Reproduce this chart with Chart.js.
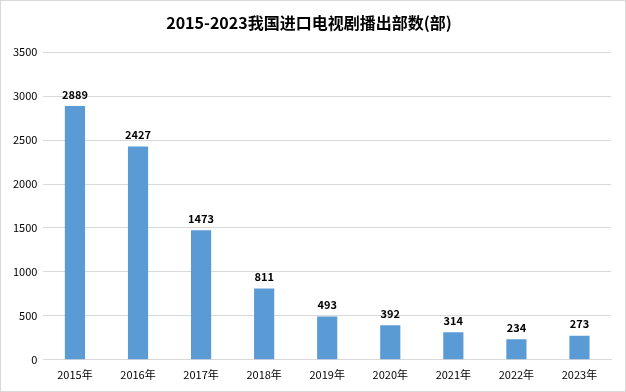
<!DOCTYPE html>
<html>
<head>
<meta charset="utf-8">
<script src="https://cdn.jsdelivr.net/npm/chart.js@4/dist/chart.umd.min.js"></script>
<style>
  html, body { margin: 0; padding: 0; background: #fff; }
  #wrap { width: 624px; height: 390px; border: 1px solid #d9d9d9; position: relative; }
</style>
</head>
<body>
<div id="wrap"><canvas id="c" width="624" height="390"></canvas></div>
<script>
const years = ['2015年', '2016年', '2017年', '2018年', '2019年', '2020年', '2021年', '2022年', '2023年'];
const counts = [2889, 2427, 1473, 811, 493, 392, 314, 234, 273];
const yTicks = [0, 500, 1000, 1500, 2000, 2500, 3000, 3500];

const fontFam = '"Microsoft YaHei", "Noto Sans CJK SC", sans-serif';

// labels above bars
const barLabels = {
  id: 'barLabels',
  afterDatasetsDraw(chart) {
    const ctx = chart.ctx;
    const meta = chart.getDatasetMeta(0);
    ctx.save();
    ctx.font = 'bold 11px ' + fontFam;
    ctx.fillStyle = '#000';
    ctx.textAlign = 'center';
    ctx.textBaseline = 'bottom';
    meta.data.forEach((bar, i) => {
      ctx.fillText(String(counts[i]), bar.x, bar.y - 6);
    });
    ctx.restore();
  }
};

new Chart(document.getElementById('c'), {
  type: 'bar',
  data: {
    labels: years,
    datasets: [{
      data: counts,
      backgroundColor: '#5b9bd5',
      barPercentage: 0.64,
      categoryPercentage: 0.5
    }]
  },
  options: {
    responsive: false,
    animation: false,
    layout: { padding: { left: 6, right: 14, top: 4, bottom: 10 } },
    plugins: {
      legend: { display: false },
      tooltip: { enabled: false },
      title: {
        display: true,
        text: '2015-2023我国进口电视剧播出部数(部)',
        color: '#000',
        font: { family: fontFam, size: 16, weight: 'bold' },
        padding: { top: 8, bottom: 20 }
      }
    },
    scales: {
      x: {
        grid: { display: false },
        border: { color: '#d9d9d9' },
        ticks: { color: '#000', font: { family: fontFam, size: 11 }, padding: 0 }
      },
      y: {
        min: 0,
        max: 3500,
        afterBuildTicks(axis) { axis.ticks = yTicks.map(v => ({ value: v })); },
        grid: { color: '#d9d9d9', drawTicks: false },
        border: { display: false },
        ticks: {
          color: '#000',
          font: { family: fontFam, size: 11 },
          padding: 6,
          callback: v => String(v)
        }
      }
    }
  },
  plugins: [barLabels]
});
</script>
</body>
</html>
